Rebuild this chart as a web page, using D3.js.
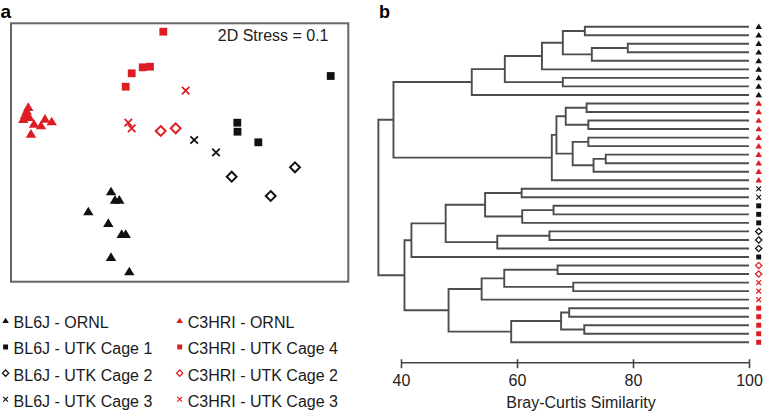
<!DOCTYPE html>
<html><head><meta charset="utf-8">
<script src="https://cdn.jsdelivr.net/npm/d3@7"></script>
<style>body{margin:0;background:#fff}svg{display:block;font-family:"Liberation Sans",Arial,Helvetica,sans-serif}</style>
</head><body><svg id="c" width="764" height="411"></svg>
<script>
// ---------- DATA ----------
const groupLabels = ["BL6J - ORNL","BL6J - UTK Cage 1","BL6J - UTK Cage 2","BL6J - UTK Cage 3",
                     "C3HRI - ORNL","C3HRI - UTK Cage 4","C3HRI - UTK Cage 2","C3HRI - UTK Cage 3"];
const stressLabel = "2D Stress = 0.1";
// NMDS coordinates [NMDS1, NMDS2] per group
const bl6jORNL  = [[-0.69,-0.417],[-0.65,-0.50],[-0.607,-0.50],[-0.917,-0.617],[-0.717,-0.733],[-0.583,-0.843],[-0.543,-0.843],[-0.69,-1.073],[-0.507,-1.217]];
const bl6jCage1 = [[1.507,0.74],[0.573,0.273],[0.575,0.183],[0.783,0.077]];
const bl6jCage2 = [[0.517,-0.267],[1.15,-0.173],[0.907,-0.46]];
const bl6jCage3 = [[0.142,0.10],[0.36,-0.023]];
const c3hORNL   = [[-1.517,0.427],[-1.533,0.39],[-1.55,0.35],[-1.567,0.307],[-1.507,0.327],[-1.46,0.26],[-1.39,0.243],[-1.35,0.31],[-1.283,0.283],[-1.49,0.16]];
const c3hCage4  = [[-0.167,1.183],[-0.483,0.767],[-0.373,0.827],[-0.30,0.833],[-0.543,0.633]];
const c3hCage2  = [[-0.193,0.19],[-0.043,0.217]];
const c3hCage3  = [[0.057,0.593],[-0.517,0.273],[-0.483,0.217]];
const nmdsGroups = [bl6jORNL,bl6jCage1,bl6jCage2,bl6jCage3,c3hORNL,c3hCage4,c3hCage2,c3hCage3];
const nmds1Range = [-1.69, 1.683];
const nmds2Range = [-1.317, 1.267];

// Dendrogram: leaf group index (top to bottom) and merges [a, b, similarity]
// negative = leaf number, positive = earlier merge number (1-based)
const leafGroups = [0,0,0,0,0,0,0,0,0, 4,4,4,4,4,4,4,4,4,4, 3,3, 1,1,1, 2,2,2, 1, 6,6, 7,7,7, 5,5,5,5,5];
const merges = [
 [-1,-2,71.7],[-3,-4,79.1],[2,-5,72.9],[1,3,67.9],[4,-6,64.3],[-7,-8,67.9],[5,6,57.9],[7,-9,52.2],
 [-10,-11,72.0],[-12,-13,72.3],[9,10,68.4],[-14,-15,72.3],[-16,-17,75.3],[13,-18,73.2],[12,14,69.6],
 [11,15,66.8],[16,-19,66.0],[8,17,38.7],
 [-20,-21,60.8],[-22,-23,66.3],[20,-24,60.9],[19,21,54.5],[-25,-26,65.6],[23,-27,56.6],[22,24,47.7],
 [25,-28,41.8],[-29,-30,67.0],[-31,-32,69.7],[27,28,57.8],[29,-33,53.9],[-34,-35,69.0],[-36,-37,71.6],
 [31,32,67.6],[33,-38,59.0],[30,34,48.2],[26,35,40.6],[18,36,36.1]
];
const simTicks = [40,60,80,100];
const simLabel = "Bray-Curtis Similarity";

// ---------- STYLE ----------
const RED = "#dc1e24", BLK = "#111";
const groupShape = ["tri","sq","dia","x","tri","sq","dia","x"];
const groupColor = [BLK,BLK,BLK,BLK,RED,RED,RED,RED];

const svg = d3.select("#c");

function marker(g, shape, color, r) {
  if (shape === "tri") {
    g.append("path").attr("d", `M0,${-r*0.95}L${r},${r*0.7}L${-r},${r*0.7}Z`).attr("fill", color);
  } else if (shape === "sq") {
    const s = r*1.5;
    g.append("rect").attr("x",-s/2).attr("y",-s/2).attr("width",s).attr("height",s).attr("fill",color);
  } else if (shape === "dia") {
    const d = r*0.95;
    g.append("path").attr("d", `M0,${-d}L${d},0L0,${d}L${-d},0Z`).attr("fill","#fff")
      .attr("stroke", color).attr("stroke-width", Math.max(1.2, r*0.38));
  } else {
    const d = r*0.72;
    g.append("path").attr("d", `M${-d},${-d}L${d},${d}M${-d},${d}L${d},${-d}`)
      .attr("stroke", color).attr("stroke-width", Math.max(1.2, r*0.34)).attr("fill","none");
  }
}

// ---------- PANEL A ----------
const ax = d3.scaleLinear().domain(nmds1Range).range([11, 348.3]);
const ay = d3.scaleLinear().domain(nmds2Range).range([281.7, 23.3]);
svg.append("rect").attr("x", ax.range()[0]).attr("y", ay.range()[1])
  .attr("width", ax.range()[1]-ax.range()[0]).attr("height", ay.range()[0]-ay.range()[1])
  .attr("fill","none").attr("stroke","#666").attr("stroke-width",2);
svg.append("text").attr("x",0.5).attr("y",17.5).attr("font-size",19).attr("font-weight","bold").text("a");
svg.append("text").attr("x",328.5).attr("y",40.6).attr("text-anchor","end").attr("font-size",16).attr("fill","#222").text(stressLabel);

nmdsGroups.forEach((pts, gi) => {
  pts.forEach(p => {
    const g = svg.append("g").attr("transform", `translate(${ax(p[0])},${ay(p[1])})`);
    marker(g, groupShape[gi], groupColor[gi], 5.2);
  });
});

// legend
const legX = d3.scaleOrdinal().domain([0,1]).range([5.6, 179.7]);
const legY = d3.scaleLinear().domain([0,3]).range([328.3, 406.8]);
groupLabels.forEach((lab, i) => {
  const col = Math.floor(i/4), row = i%4;
  const g = svg.append("g").attr("transform", `translate(${legX(col)},${legY(row)-7.5})`);
  marker(g, groupShape[i], groupColor[i], 3.3);
  svg.append("text").attr("x", legX(col)+8).attr("y", legY(row)).attr("font-size",16).attr("fill","#1a1a1a").text(lab);
});

// ---------- PANEL B ----------
svg.append("text").attr("x",379).attr("y",17.5).attr("font-size",18).attr("font-weight","bold").text("b");
const bx = d3.scaleLinear().domain([40,100]).range([401,749]);
const by = d3.scalePoint().domain(d3.range(leafGroups.length)).range([26.7, 342.3]);

const nodeX = [], nodeY = [];
function pos(id) {
  if (id < 0) return [bx(100), by(-id-1)];
  return [nodeX[id-1], nodeY[id-1]];
}
const dg = svg.append("g").attr("fill","none").attr("stroke","#4d4d4d").attr("stroke-width",1.9);
merges.forEach((m, k) => {
  const [x1,y1] = pos(m[0]), [x2,y2] = pos(m[1]);
  const x = bx(m[2]);
  nodeX[k] = x; nodeY[k] = (y1+y2)/2;
  dg.append("path").attr("d", `M${x1},${y1}H${x}V${y2}H${x2}`);
});

leafGroups.forEach((gi, i) => {
  const g = svg.append("g").attr("transform", `translate(${bx(100)+9.7},${by(i)})`);
  marker(g, groupShape[gi], groupColor[gi], 3.3);
});

// axis
const axisG = svg.append("g").attr("transform","translate(0,362.7)")
  .call(d3.axisBottom(bx).tickValues(simTicks).tickSize(9).tickFormat(d3.format("d")));
axisG.select(".domain").attr("d", `M${bx(40)},0H${bx(100)}`).attr("stroke","#444").attr("stroke-width",1.6);
axisG.selectAll(".tick line").attr("y1",-3.5).attr("y2",5.5).attr("stroke","#444").attr("stroke-width",1.6);
axisG.selectAll(".tick text").attr("font-size",16).attr("fill","#222")
  .attr("font-family",'"Liberation Sans",Arial,sans-serif').attr("dy",null).attr("y",23.3);
svg.append("text").attr("x",581).attr("y",407.5).attr("text-anchor","middle").attr("font-size",16).attr("fill","#222").text(simLabel);
</script></body></html>
